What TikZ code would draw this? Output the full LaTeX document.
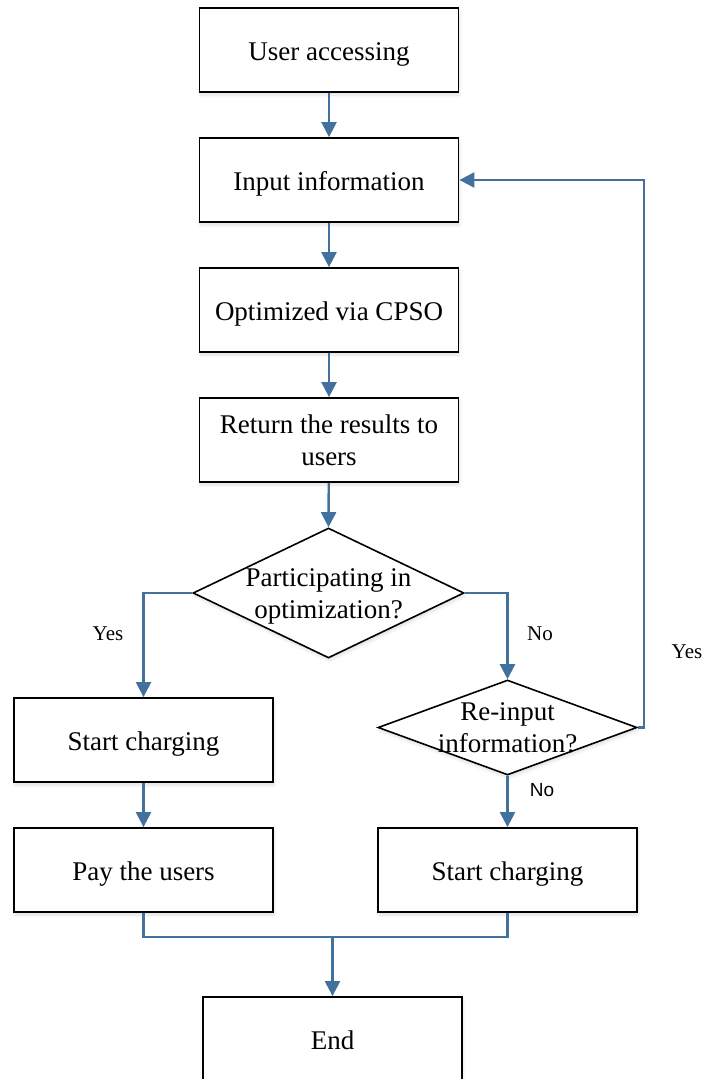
\documentclass[tikz,border=0pt]{standalone}
\usepackage{fontspec}
\setmainfont{Liberation Serif}
\newfontfamily\labelsans{Liberation Sans}
\usetikzlibrary{shapes.geometric,arrows.meta,shadows.blur}
\definecolor{flowblue}{RGB}{65,113,156}

\begin{document}
\begin{tikzpicture}[x=1pt,y=-1pt,
  softshadow/.style={blur shadow={shadow xshift=1pt, shadow yshift=-3pt,
      shadow blur radius=3pt, shadow opacity=12}},
  stepbox/.style={draw=black, line width=1.8pt, fill=white, softshadow,
      minimum width=259pt, minimum height=84pt, inner sep=0pt},
  decision/.style={draw=black, line width=1.6pt, fill=white, softshadow,
      shape=diamond, inner sep=0pt},
  flowtext/.style={font=\fontsize{27}{32}\selectfont, align=center, inner sep=0pt},
  oneline/.style={text height=20pt, text depth=0pt},
  branchtext/.style={font=\fontsize{21}{24}\selectfont, inner sep=0pt},
  sanstext/.style={font=\labelsans\fontsize{19}{22}\selectfont, inner sep=0pt},
  flow/.style={draw=flowblue, line width=2.4pt},
  arrow/.style={flow, -{Triangle[length=15pt,width=15pt]}},
]
\useasboundingbox (0,0) rectangle (704,1079);

% main column of steps
\node[stepbox, flowtext, oneline] (user)  at (329,50)  {User accessing};
\node[stepbox, flowtext, oneline] (input) at (329,180) {Input information};
\node[stepbox, flowtext, oneline] (cpso)  at (329,310) {Optimized via CPSO};
\node[stepbox, flowtext] (ret)   at (329,440) {Return the results to\\users};

% first decision
\node[decision, minimum width=271pt, minimum height=130pt] (dec1) at (328.5,593) {};
\node[flowtext] (dec1txt) at (328.5,596) {Participating in\\optimization?};

% left branch
\node[stepbox, flowtext, oneline] (startL) at (143.5,740) {Start charging};
\node[stepbox, flowtext, oneline] (pay)    at (143.5,870) {Pay the users};

% second decision
\node[decision, minimum width=259pt, minimum height=95pt] (dec2) at (507.5,727.5) {};
\node[flowtext] (dec2txt) at (507.5,728) {Re-input\\information?};

% right branch
\node[stepbox, flowtext, oneline] (startR) at (507.5,870) {Start charging};

% final step
\node[stepbox, flowtext, oneline] (end) at (332.5,1039) {End};

% connectors
\draw[arrow] (user) -- (input);
\draw[arrow] (input) -- (cpso);
\draw[arrow] (cpso) -- (ret);
\draw[arrow] (ret) -- (dec1.north);
\draw[arrow] (dec1.west) -| (startL.north);
\draw[arrow] (dec1.east) -| (dec2.north);
\draw[arrow] (dec2.east) -- ++(6,0) |- (input.east);
\draw[arrow] (dec2.south) -- (startR.north);
\draw[arrow] (startL) -- (pay);
\coordinate (join) at (332.5,937);
\draw[flow] (pay.south) |- (join) -| (startR.south);
\draw[arrow] (join) -- (end.north);

% branch labels
\node[branchtext] (yes1) at (108,634) {Yes};
\node[branchtext] (no1)  at (540,634) {No};
\node[branchtext] (yes2) at (687,652) {Yes};
\node[sanstext]   (no2)  at (542,790) {No};
\end{tikzpicture}
\end{document}
